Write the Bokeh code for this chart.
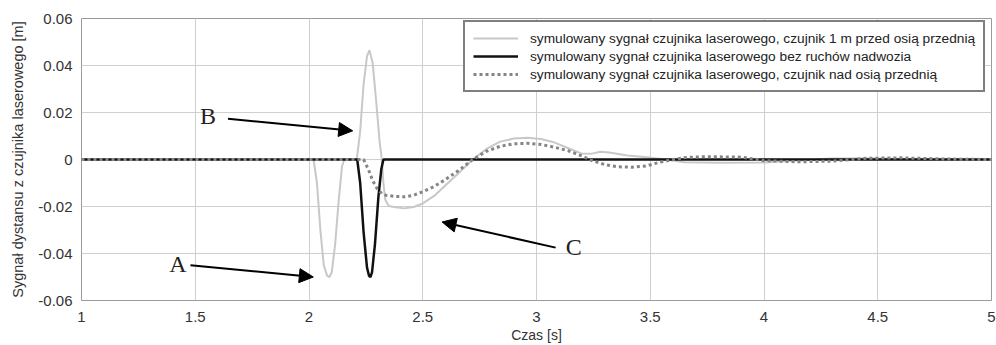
from bokeh.plotting import figure
from bokeh.models import FixedTicker, Arrow, NormalHead, Range1d, Legend, LegendItem, Title
from bokeh.core.properties import value
from bokeh.embed import file_html
from bokeh.resources import INLINE

# ---- data ----
t_front = [1.0, 2.02, 2.035, 2.05, 2.065, 2.08, 2.09, 2.10, 2.115, 2.13, 2.145, 2.155,
           2.21, 2.225, 2.24, 2.255, 2.266, 2.28, 2.295, 2.31, 2.32, 2.327, 2.335, 2.35,
           2.38, 2.42, 2.46, 2.50, 2.55, 2.60, 2.65, 2.72, 2.78, 2.84, 2.90, 2.96, 3.02,
           3.08, 3.14, 3.20, 3.24, 3.28, 3.32, 3.40, 3.50, 3.57, 3.65, 3.80, 4.00, 4.15,
           4.30, 4.50, 4.70, 5.0]
y_front = [0.0, 0.0, -0.010, -0.030, -0.045, -0.0495, -0.050, -0.048, -0.036, -0.018, -0.003, 0.0,
           0.0, 0.012, 0.032, 0.044, 0.0465, 0.041, 0.025, 0.008, 0.0, -0.010, -0.017, -0.0198,
           -0.0203, -0.0208, -0.0202, -0.0187, -0.0155, -0.011, -0.0065, 0.0, 0.0045, 0.0076, 0.0089, 0.0093, 0.0087,
           0.0072, 0.0048, 0.0025, 0.0024, 0.0033, 0.0030, 0.0017, 0.0008, 0.0, -0.0012, -0.0014, -0.0013, -0.0004,
           0.0004, 0.0004, 0.0001, 0.0]

t_body = [1.0, 2.212, 2.225, 2.24, 2.255, 2.264, 2.270, 2.277, 2.29, 2.305, 2.318, 2.327, 5.0]
y_body = [0.0, 0.0, -0.010, -0.031, -0.046, -0.0495, -0.050, -0.048, -0.036, -0.016, -0.004, 0.0, 0.0]

t_axle = [1.0, 2.24, 2.26, 2.28, 2.30, 2.32, 2.34, 2.38, 2.42, 2.46, 2.50, 2.55, 2.60, 2.66,
          2.72, 2.78, 2.84, 2.90, 2.96, 3.02, 3.08, 3.14, 3.20, 3.24, 3.30, 3.36, 3.42, 3.48,
          3.54, 3.60, 3.66, 3.75, 3.90, 4.00, 4.15, 4.30, 4.45, 4.60, 4.80, 5.0]
y_axle = [0.0, 0.0, -0.004, -0.009, -0.0125, -0.0145, -0.0153, -0.0157, -0.0159, -0.0152, -0.0137, -0.0115, -0.0085, -0.0045,
          0.0, 0.0035, 0.0056, 0.0067, 0.0069, 0.0064, 0.0052, 0.0037, 0.0015, -0.0003, -0.0022, -0.0031, -0.0033, -0.0028,
          -0.0012, 0.0, 0.0009, 0.0012, 0.0010, -0.0005, -0.0010, -0.0007, 0.0005, 0.0007, 0.0002, 0.0]

series_labels = [
    "symulowany sygnał czujnika laserowego, czujnik 1 m przed osią przednią",
    "symulowany sygnał czujnika laserowego bez ruchów nadwozia",
    "symulowany sygnał czujnika laserowego, czujnik nad osią przednią",
]

x_ticks = [1, 1.5, 2, 2.5, 3, 3.5, 4, 4.5, 5]
x_tick_labels = ["1", "1.5", "2", "2.5", "3", "3.5", "4", "4.5", "5"]
y_ticks = [-0.06, -0.04, -0.02, 0, 0.02, 0.04, 0.06]
y_tick_labels = ["-0.06", "-0.04", "-0.02", "0", "0.02", "0.04", "0.06"]

x_title = "Czas [s]"
y_title = "Sygnał dystansu z czujnika laserowego [m]"

marker_letters = ["A", "B", "C"]
marker_x = [1.424, 1.556, 3.164]
marker_y = [-0.0443, 0.0183, -0.0372]
arrow_x_start = [1.479, 1.644, 3.084]
arrow_y_start = [-0.0450, 0.0173, -0.0375]
arrow_x_end = [2.019, 2.192, 2.585]
arrow_y_end = [-0.0500, 0.0122, -0.0266]

# ---- figure ----
FONT = "Liberation Sans"

p = figure(width=996, height=345, x_range=Range1d(1, 5), y_range=Range1d(-0.06, 0.06),
           output_backend="svg", toolbar_location=None,
           min_border_left=81, min_border_right=5, min_border_top=18, min_border_bottom=45)
p.background_fill_color = "white"
p.border_fill_color = "white"
p.outline_line_color = "#9a9a9a"
p.outline_line_width = 1

for ax in (p.xaxis[0], p.yaxis[0]):
    ax.axis_line_color = None
    ax.major_tick_line_color = None
    ax.minor_tick_line_color = None
    ax.major_tick_in = 0
    ax.major_tick_out = 0
    ax.minor_tick_in = 0
    ax.minor_tick_out = 0
    ax.major_label_text_font = FONT
    ax.major_label_text_font_size = "15px"
    ax.major_label_text_color = "#333333"
    ax.axis_label_text_font = FONT
    ax.axis_label_text_font_style = "normal"
    ax.axis_label_text_color = "#333333"

p.xaxis[0].ticker = FixedTicker(ticks=x_ticks)
p.xaxis[0].major_label_overrides = {t: l for t, l in zip(x_ticks, x_tick_labels)}
p.xaxis[0].major_label_standoff = 11

p.yaxis[0].ticker = FixedTicker(ticks=y_ticks)
p.yaxis[0].major_label_overrides = {t: l for t, l in zip(y_ticks, y_tick_labels)}
p.yaxis[0].major_label_standoff = 9
p.yaxis[0].axis_label = y_title
p.yaxis[0].axis_label_text_font_size = "14.5px"
p.yaxis[0].axis_label_standoff = 9

# x-axis title as a title in the panel below the axis
p.add_layout(Title(text=x_title, align="center", text_font=FONT, text_font_size="14px",
                   text_font_style="normal", text_color="#333333", standoff=0), "below")

p.xgrid.ticker = FixedTicker(ticks=x_ticks)
p.ygrid.ticker = FixedTicker(ticks=y_ticks)
p.xgrid.grid_line_color = "#cfcfcf"
p.ygrid.grid_line_color = "#cfcfcf"
p.xgrid.grid_line_width = 1
p.ygrid.grid_line_width = 1

r_front = p.line(t_front, y_front, line_color="#c8c8c8", line_width=2)
r_body = p.line(t_body, y_body, line_color="#111111", line_width=2.5)
r_axle = p.line(t_axle, y_axle, line_color="#858585", line_width=3, line_dash="3 3")

legend = Legend(items=[LegendItem(label=series_labels[0], renderers=[r_front]),
                       LegendItem(label=series_labels[1], renderers=[r_body]),
                       LegendItem(label=series_labels[2], renderers=[r_axle])],
                location=(382, 208))
legend.border_line_color = "black"
legend.border_line_width = 2
legend.background_fill_color = "white"
legend.background_fill_alpha = 1
legend.label_text_font = FONT
legend.label_text_font_size = "13.7px"
legend.label_text_color = "#222222"
legend.glyph_width = 45
legend.glyph_height = 16
legend.label_height = 16
legend.label_standoff = 12
legend.spacing = 2
legend.padding = 8
legend.margin = 0
p.add_layout(legend)

for xs, ys, xe, ye in zip(arrow_x_start, arrow_y_start, arrow_x_end, arrow_y_end):
    p.add_layout(Arrow(end=NormalHead(size=14, fill_color="black", line_color="black"),
                       x_start=xs, y_start=ys, x_end=xe, y_end=ye,
                       line_color="black", line_width=2))

p.text(x=marker_x, y=marker_y, text=marker_letters, text_font=value("Liberation Serif"),
       text_font_size="24px", text_align="center", text_baseline="middle", text_color="#222222")

open("out.html", "w").write(file_html(p, INLINE))
